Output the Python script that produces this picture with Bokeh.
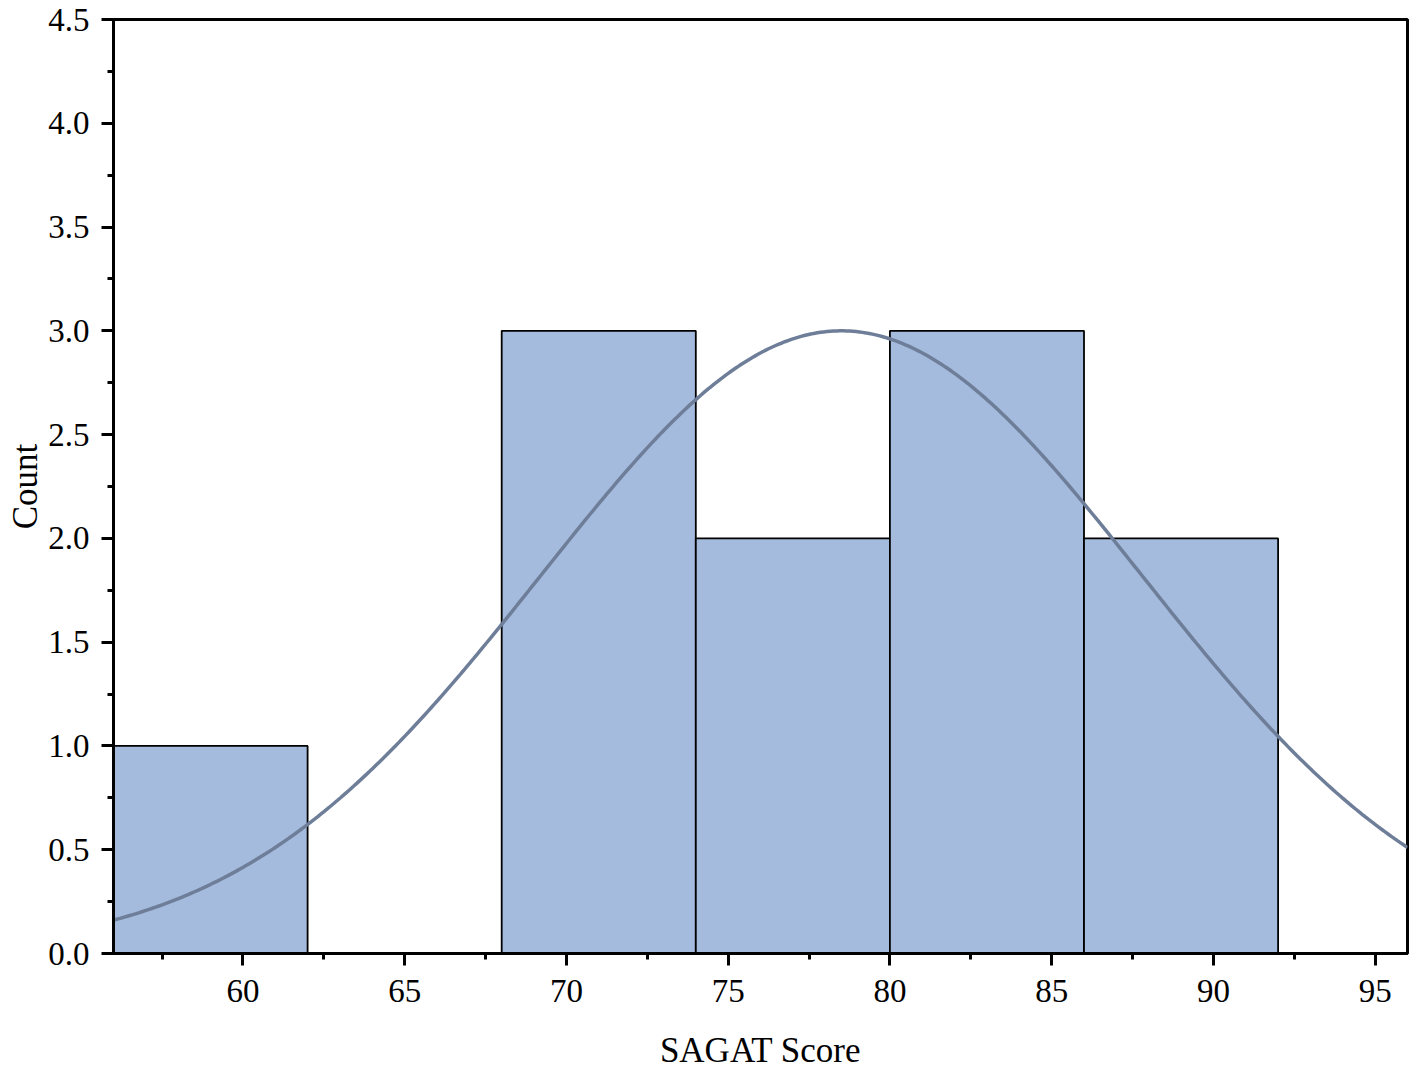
import numpy as np
from bokeh.plotting import figure
from bokeh.models import SingleIntervalTicker, NumeralTickFormatter, Range1d
from bokeh.embed import file_html
from bokeh.resources import INLINE

# Histogram data (bin edges and counts)
bin_left = [56, 62, 68, 74, 80, 86]
bin_right = [62, 68, 74, 80, 86, 92]
counts = [1, 0, 3, 2, 3, 2]

# Normal fit overlay parameters
fit_mean = 78.5
fit_sd = 9.3
fit_peak = 3.0

FONT = "Liberation Serif"

p = figure(output_backend="svg", toolbar_location=None,
           frame_width=1294, frame_height=934,
           min_border_left=113, min_border_right=6,
           min_border_top=19, min_border_bottom=112,
           x_range=Range1d(56, 96), y_range=Range1d(0, 4.5))

p.quad(left=bin_left, right=bin_right, bottom=0, top=counts,
       fill_color="#a4bbdd", line_color="black", line_width=1.8)

xs = np.linspace(56, 96, 400)
ys = fit_peak * np.exp(-0.5 * ((xs - fit_mean) / fit_sd) ** 2)
p.line(xs, ys, line_color="#6e7e99", line_width=3.5)

p.grid.visible = False
p.background_fill_color = "white"
p.outline_line_color = "black"
p.outline_line_width = 3
p.outline_line_alpha = 1

p.xaxis.ticker = SingleIntervalTicker(interval=5, num_minor_ticks=2)
p.yaxis.ticker = SingleIntervalTicker(interval=0.5, num_minor_ticks=2)
p.yaxis.formatter = NumeralTickFormatter(format="0.0")

for ax in (p.xaxis, p.yaxis):
    ax.axis_line_width = 3
    ax.axis_line_color = "black"
    ax.major_tick_line_width = 3
    ax.minor_tick_line_width = 3
    ax.major_tick_out = 12
    ax.major_tick_in = 0
    ax.minor_tick_out = 6
    ax.minor_tick_in = 0
    ax.major_label_text_font = FONT
    ax.major_label_text_font_size = "33px"
    ax.major_label_text_color = "black"
    ax.axis_label_text_font = FONT
    ax.axis_label_text_font_size = "35px"
    ax.axis_label_text_font_style = "normal"
    ax.axis_label_text_color = "black"

p.xaxis.axis_label = "SAGAT Score"
p.yaxis.axis_label = "Count"
p.xaxis.major_label_standoff = 14
p.xaxis.axis_label_standoff = 26
p.yaxis.major_label_standoff = 12
p.yaxis.axis_label_standoff = 0

open("out.html", "w").write(file_html(p, INLINE))
